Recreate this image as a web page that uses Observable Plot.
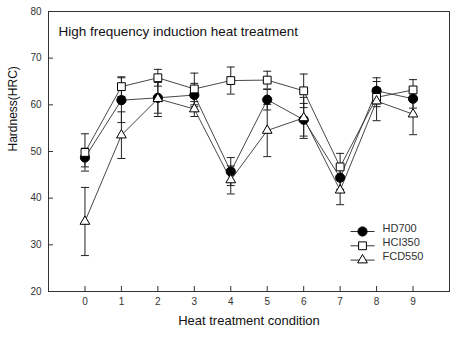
<!DOCTYPE html>
<html><head><meta charset="utf-8">
<script src="https://cdn.jsdelivr.net/npm/d3@7"></script>
<script src="https://cdn.jsdelivr.net/npm/@observablehq/plot@0.6"></script>
<style>body{margin:0;background:#fff}</style>
</head><body><div id="chart"></div>
<script>
const conditions = [0, 1, 2, 3, 4, 5, 6, 7, 8, 9];
const xTicks = [0, 1, 2, 3, 4, 5, 6, 7, 8, 9];
const yTicks = [20, 30, 40, 50, 60, 70, 80];
const seriesNames = ["HD700", "HCI350", "FCD550"];
const hd700 = [48.7, 61.0, 61.5, 62.1, 45.7, 61.1, 56.8, 44.4, 63.0, 61.3];
const hd700Err = [2.0, 4.8, 3.3, 2.5, 3.0, 2.2, 3.5, 2.5, 2.8, 2.0];
const hci350 = [49.8, 63.9, 65.8, 63.4, 65.2, 65.3, 63.0, 46.7, 61.6, 63.2];
const hci350Err = [4.0, 2.1, 1.8, 3.4, 2.9, 1.9, 3.6, 2.9, 2.0, 2.2];
const fcd550 = [35.0, 53.5, 61.3, 59.1, 43.9, 54.5, 57.2, 41.7, 60.8, 58.0];
const fcd550Err = [7.3, 5.0, 3.8, 1.6, 3.0, 5.6, 4.4, 3.1, 4.2, 4.4];
const titleText = "High frequency induction heat treatment";
const xLabel = "Heat treatment condition";
const yLabel = "Hardness(HRC)";

const seriesValues = [hd700, hci350, fcd550];
const seriesErrs = [hd700Err, hci350Err, fcd550Err];
const symbols = ["circle", "square", "triangle"];
const fills = ["black", "white", "white"];
const radii = [4.6, 4.4, 3.6];

const rows = [];
seriesNames.forEach((s, i) => conditions.forEach((c, j) => rows.push({
  series: s, cond: c, value: seriesValues[i][j], err: seriesErrs[i][j],
  lo: seriesValues[i][j] - seriesErrs[i][j], hi: seriesValues[i][j] + seriesErrs[i][j]
})));

const cap = {draw(ctx) { ctx.moveTo(-4, 0); ctx.lineTo(4, 0); }};
const legLine = {draw(ctx) { ctx.moveTo(-12, 0); ctx.lineTo(12, 0); }};

const marks = [
  Plot.frame({stroke: "#333"}),
  Plot.axisX(xTicks, {tickSize: -5, tickPadding: 11, fontSize: 10, label: null, stroke: "#333", fill: "#333"}),
  Plot.axisY(yTicks, {tickSize: -5, tickPadding: 12, fontSize: 10, label: null, stroke: "#333", fill: "#333"}),
];
seriesNames.forEach((s, i) => {
  const d = rows.filter(r => r.series === s);
  marks.push(Plot.line(d, {x: "cond", y: "value", stroke: "#333", strokeWidth: 0.9}));
});
seriesNames.forEach((s, i) => {
  const d = rows.filter(r => r.series === s);
  marks.push(Plot.ruleX(d, {x: "cond", y1: "lo", y2: "hi", stroke: "#222", strokeWidth: 1}));
  marks.push(Plot.dot(d, {x: "cond", y: "lo", symbol: cap, stroke: "#222", strokeWidth: 1}));
  marks.push(Plot.dot(d, {x: "cond", y: "hi", symbol: cap, stroke: "#222", strokeWidth: 1}));
});
seriesNames.forEach((s, i) => {
  const d = rows.filter(r => r.series === s);
  marks.push(Plot.dot(d, {x: "cond", y: "value", symbol: symbols[i], r: radii[i], fill: fills[i], stroke: "black", strokeWidth: 1}));
});
// legend
seriesNames.forEach((s, i) => {
  const dy = -60 + i * 14.3;
  marks.push(Plot.dot([s], {x: null, y: null, frameAnchor: "bottom-right", dx: -87, dy, symbol: legLine, stroke: "#333", strokeWidth: 1}));
  marks.push(Plot.dot([s], {x: null, y: null, frameAnchor: "bottom-right", dx: -87, dy, symbol: symbols[i], r: radii[i], fill: fills[i], stroke: "black", strokeWidth: 1}));
  marks.push(Plot.text([s], {frameAnchor: "bottom-right", dx: -67, dy, text: d => d, textAnchor: "start", fontSize: 11, fill: "#333"}));
});
marks.push(Plot.text([titleText], {frameAnchor: "top-left", dx: 10, dy: 15, text: d => d, textAnchor: "start", fontSize: 13.5, fill: "#111"}));
marks.push(Plot.text([xLabel], {frameAnchor: "bottom", dy: 33, text: d => d, fontSize: 13, fill: "#111"}));
marks.push(Plot.text([yLabel], {frameAnchor: "left", dx: -35, rotate: -90, text: d => d, fontSize: 12, fill: "#111"}));

const chart = Plot.plot({
  width: 454, height: 339,
  marginLeft: 48, marginRight: 5, marginTop: 11, marginBottom: 48,
  style: {fontFamily: "'Liberation Sans', Arial, sans-serif", background: "white"},
  x: {domain: [-1, 10], axis: null},
  y: {domain: [20, 80], axis: null},
  marks
});
document.getElementById("chart").appendChild(chart);
</script>
</body></html>
